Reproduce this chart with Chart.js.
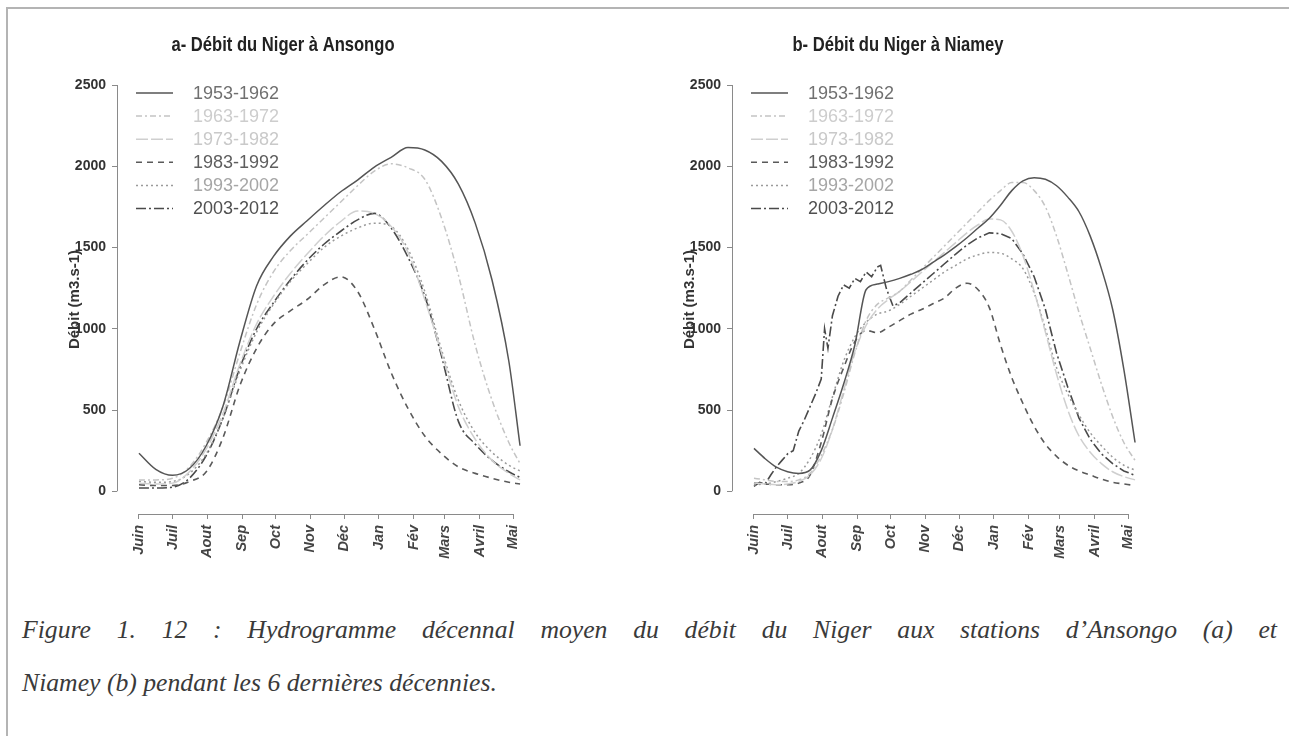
<!DOCTYPE html>
<html><head><meta charset="utf-8">
<script src="https://cdn.jsdelivr.net/npm/chart.js@4.4.1/dist/chart.umd.min.js"></script>
<style>
html,body{margin:0;padding:0;background:#fff;width:1289px;height:736px;overflow:hidden;}
#frame{position:absolute;left:6px;top:7px;width:1400px;height:900px;border-left:2px solid #b4b4b4;border-top:2px solid #b4b4b4;}
.box{position:absolute;top:0;width:580px;height:600px;}
.cap{position:absolute;left:22px;width:1255px;font-family:"Liberation Serif","Times New Roman",serif;font-style:italic;font-size:25.7px;line-height:30px;color:#3a3a3a;white-space:nowrap;}
#cap1{top:615px;text-align:justify;text-align-last:justify;}
#cap2{top:668px;text-align:left;}
</style></head>
<body>
<div id="frame"></div>
<div class="box" style="left:0"><canvas id="c1" width="580" height="600"></canvas></div>
<div class="box" style="left:615px"><canvas id="c2" width="580" height="600"></canvas></div>
<div class="cap" id="cap1">Figure 1. 12 : Hydrogramme décennal moyen du débit du Niger aux stations d’Ansongo (a) et</div>
<div class="cap" id="cap2">Niamey (b) pendant les 6 dernières décennies.</div>
<script>
// ---- data ----
const monthLabels = ['Juin','Juil','Aout','Sep','Oct','Nov','Déc','Jan','Fév','Mars','Avril','Mai'];
const monthDays = [0,30,61,92,122,153,183,214,245,273,304,334];
const yTicks = [0,500,1000,1500,2000,2500];
const decades = ['1953-1962','1963-1972','1973-1982','1983-1992','1993-2002','2003-2012'];

// Ansongo (day of hydrological year from 1 June)
const daysA = [0,15,30,45,60,75,90,105,120,135,150,165,180,195,210,225,240,255,270,285,300,315,330,340];
const a1953 = [234,135,98,140,280,525,920,1265,1445,1570,1665,1757,1843,1915,1995,2055,2115,2100,2030,1890,1650,1300,800,280];
const a1963 = [70,70,80,150,300,520,850,1150,1350,1480,1580,1680,1780,1880,1970,2015,1990,1920,1680,1330,900,560,300,170];
const a1973 = [50,45,50,120,260,480,780,1030,1200,1340,1460,1570,1660,1725,1710,1630,1470,1180,850,520,320,190,110,70];
const a1983 = [40,35,35,60,120,330,650,880,1030,1110,1180,1270,1320,1230,1000,730,510,340,230,150,110,80,55,45];
const a1993 = [60,55,60,110,230,450,740,980,1150,1290,1400,1500,1570,1620,1650,1630,1490,1230,870,560,360,240,160,125];
const a2003 = [20,20,25,80,220,450,760,1000,1160,1300,1420,1520,1600,1670,1710,1620,1440,1200,830,430,290,190,120,85];

// Niamey
const daysN = [0,10,20,30,40,50,60,70,80,90,100,110,120,130,140,150,160,170,180,190,200,210,220,230,240,250,260,270,280,290,300,310,320,330,340];
const n1953 = [264,200,148,120,110,130,250,450,660,900,1240,1275,1290,1310,1335,1365,1410,1455,1505,1560,1620,1680,1760,1850,1910,1930,1920,1880,1810,1720,1570,1370,1120,750,300];
const n1963 = [80,70,60,60,70,110,220,380,600,850,1050,1150,1190,1230,1300,1370,1440,1510,1580,1650,1720,1790,1850,1900,1900,1850,1750,1570,1340,1100,880,660,460,300,190];
const n1973 = [50,45,40,45,60,100,200,380,620,860,1020,1120,1180,1230,1290,1350,1410,1470,1530,1590,1640,1675,1670,1600,1450,1230,980,720,500,340,240,170,120,90,70];
const n1983 = [50,45,40,40,50,100,300,570,760,920,990,975,1010,1050,1090,1120,1155,1190,1250,1280,1240,1130,900,700,540,400,290,215,160,125,100,75,55,45,35];
const n1993 = [40,45,60,80,110,200,350,580,800,950,1040,1090,1110,1150,1200,1250,1300,1350,1390,1430,1455,1470,1465,1430,1370,1220,1000,760,600,470,360,280,210,160,130];
const daysN2003 = [0,5,10,15,20,25,30,35,40,45,50,55,60,63,66,70,75,80,85,90,95,100,105,110,113,118,124,130,140,150,160,170,180,190,200,210,220,230,240,250,260,270,280,290,300,310,320,330,340];
const n2003 = [30,55,45,100,150,190,230,250,370,440,520,600,690,1000,880,1080,1200,1270,1250,1310,1290,1350,1320,1380,1390,1250,1140,1160,1220,1280,1340,1400,1460,1515,1560,1590,1585,1555,1460,1320,1120,850,640,450,320,230,170,125,98];

// ---- styles ----
const lineColors = ['#555555','#c4c4c4','#cfcfcf','#5a5a5a','#9a9a9a','#4a4a4a'];
const lineDashes = [[],[6,3,2,3],[12,3],[6,5],[2,3],[10,3,2,3]];
const lineWidths = [1.5,1.5,1.5,1.6,1.5,1.6];
const legendTextColors = ['#707070','#cdcdcd','#c9c9c9','#5e5e5e','#a6a6a6','#505050'];
const SANS = '"Liberation Sans", Arial, sans-serif';

function pts(days, vals){ return days.map((d,i)=>({x:d,y:vals[i]})); }

const legendPlugin = {
  id:'rlegend',
  afterDatasetsDraw(chart){
    const ctx = chart.ctx, a = chart.chartArea;
    chart.data.datasets.forEach((ds,i)=>{
      const y = a.top + 8 + i*23.1;
      ctx.save();
      ctx.strokeStyle = ds.borderColor; ctx.lineWidth = ds.borderWidth;
      ctx.setLineDash(ds.borderDash || []);
      ctx.beginPath(); ctx.moveTo(a.left+19, y); ctx.lineTo(a.left+56, y); ctx.stroke();
      ctx.setLineDash([]);
      ctx.fillStyle = legendTextColors[i];
      ctx.font = '18px ' + SANS;
      ctx.textBaseline = 'middle'; ctx.textAlign = 'left';
      ctx.fillText(ds.label, a.left+76, y+1);
      ctx.restore();
    });
  }
};
const axisPlugin = {
  id:'raxes',
  afterDraw(chart){
    const ctx = chart.ctx, xs = chart.scales.x, ys = chart.scales.y, a = chart.chartArea;
    ctx.save(); ctx.strokeStyle = '#8a8a8a'; ctx.lineWidth = 1;
    ctx.beginPath();
    const ax = Math.round(a.left) + 0.5;
    ctx.moveTo(ax, ys.getPixelForValue(yTicks[0])); ctx.lineTo(ax, ys.getPixelForValue(yTicks[yTicks.length-1]));
    const ay = Math.round(a.bottom) + 0.5;
    ctx.moveTo(xs.getPixelForValue(monthDays[0]), ay); ctx.lineTo(xs.getPixelForValue(monthDays[monthDays.length-1]), ay);
    ctx.stroke(); ctx.restore();
  }
};
function titlePlugin(text){
  return {
    id:'rtitle',
    afterDraw(chart){
      const ctx = chart.ctx;
      ctx.save();
      ctx.translate(283, 45);
      ctx.scale(0.79, 1);
      ctx.font = 'bold 21px ' + SANS;
      ctx.fillStyle = '#222';
      ctx.textAlign = 'center'; ctx.textBaseline = 'middle';
      ctx.fillText(text, 0, 0);
      ctx.restore();
    }
  };
}

function makeChart(id, title, seriesList){
  const datasets = seriesList.map((s,i)=>({
    label: decades[i], data: pts(s.days, s.vals),
    borderColor: lineColors[i], borderDash: lineDashes[i], borderWidth: lineWidths[i],
    pointRadius: 0, fill: false,
    cubicInterpolationMode: s.noisy ? 'default' : 'monotone', tension: s.noisy ? 0 : 0.4
  }));
  return new Chart(document.getElementById(id), {
    type:'line',
    data:{datasets},
    plugins:[legendPlugin, axisPlugin, titlePlugin(title)],
    options:{
      responsive:false, animation:false, devicePixelRatio:1,
      layout:{padding:{left:0,right:14,top:85,bottom:0}},
      plugins:{ legend:{display:false}, tooltip:{enabled:false}, title:{display:false} },
      scales:{
        x:{type:'linear', min:-19.6, max:381,
          afterBuildTicks:s=>{ s.ticks = monthDays.map(v=>({value:v})); },
          afterFit:s=>{ s.height = 86; },
          border:{display:false},
          grid:{display:true, drawOnChartArea:false, drawTicks:true, tickLength:5, color:'#8a8a8a'},
          ticks:{autoSkip:false, minRotation:90, maxRotation:90, padding:6, color:'#444',
            font:{family:SANS, size:14.5, style:'italic', weight:'bold'},
            callback:(v)=>monthLabels[monthDays.indexOf(v)]}
        },
        y:{type:'linear', min:-140, max:2500,
          afterBuildTicks:s=>{ s.ticks = yTicks.map(v=>({value:v})); },
          afterFit:s=>{ s.width = 117; },
          border:{display:false},
          grid:{display:true, drawOnChartArea:false, drawTicks:true, tickLength:5, color:'#8a8a8a'},
          ticks:{padding:6, color:'#333', font:{family:SANS, size:14, weight:'bold'}, callback:(v)=>String(v)},
          title:{display:true, text:'Débit (m3.s-1)', color:'#333', padding:{top:66,bottom:0},
            font:{family:SANS, size:15, weight:'bold'}}
        }
      }
    }
  });
}

makeChart('c1','a- Débit du Niger à Ansongo',[
  {days:daysA, vals:a1953},{days:daysA, vals:a1963},{days:daysA, vals:a1973},
  {days:daysA, vals:a1983},{days:daysA, vals:a1993},{days:daysA, vals:a2003}
]);
makeChart('c2','b- Débit du Niger à Niamey',[
  {days:daysN, vals:n1953},{days:daysN, vals:n1963},{days:daysN, vals:n1973},
  {days:daysN, vals:n1983},{days:daysN, vals:n1993},{days:daysN2003, vals:n2003, noisy:true}
]);
</script>
</body></html>
